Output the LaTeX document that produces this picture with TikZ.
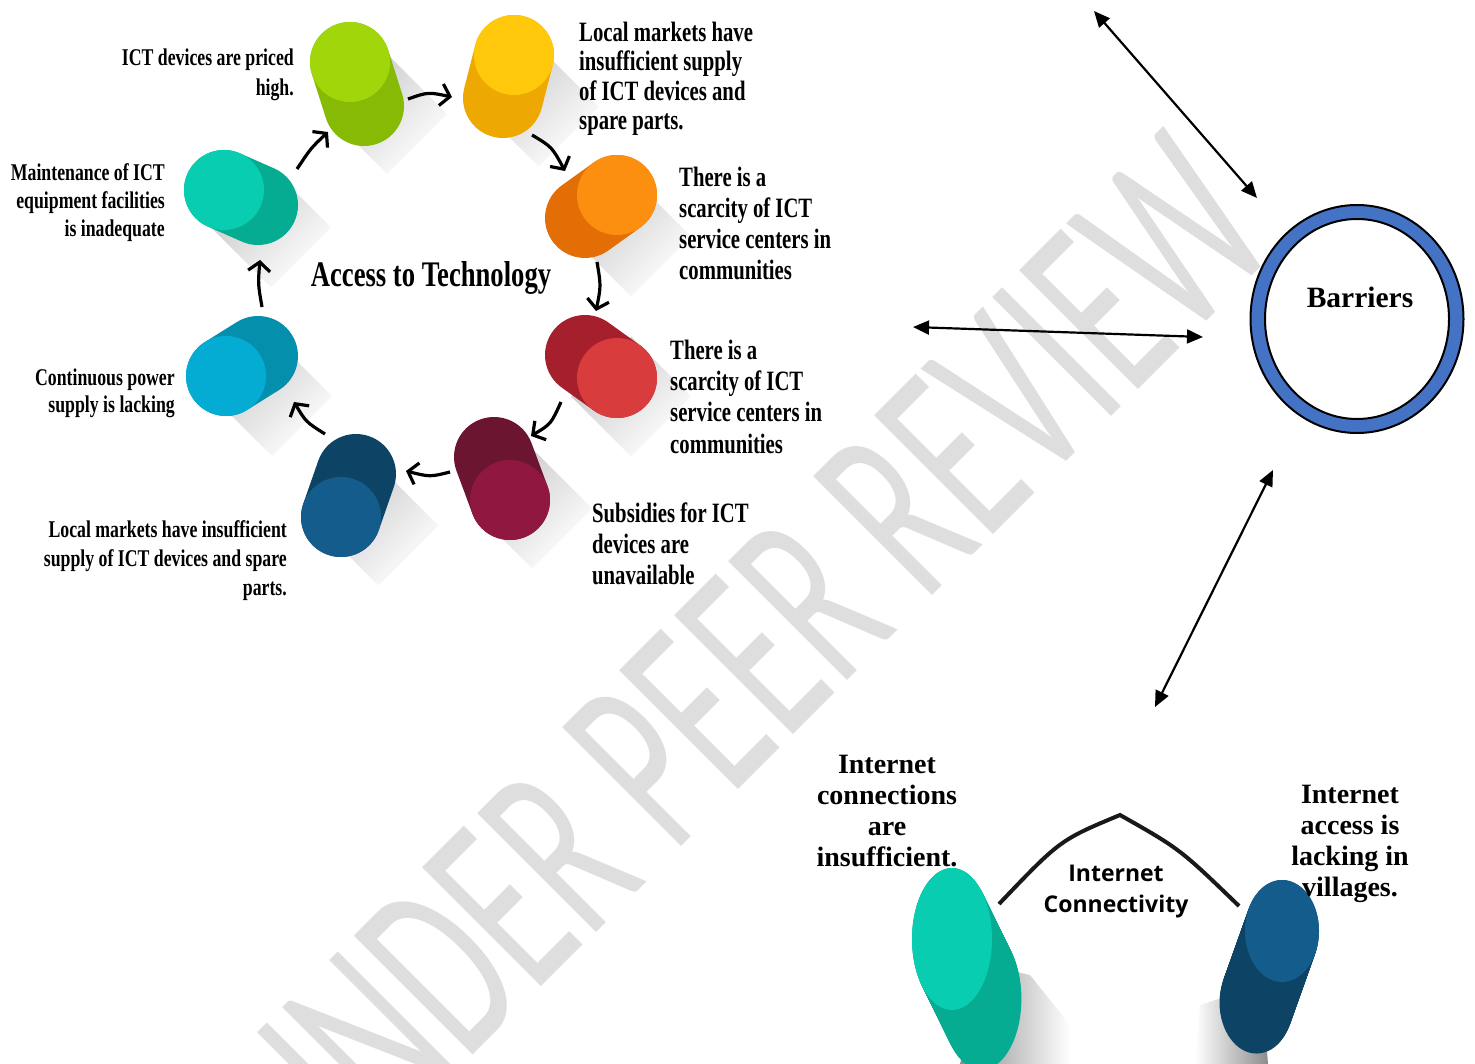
\documentclass[tikz,border=0pt]{standalone}
\usepackage{fontspec}
\setmainfont{Liberation Serif}
\newfontfamily\condfont[FakeStretch=0.74]{Liberation Serif}
\newfontfamily\wmfont[FakeStretch=0.6]{Carlito}
\newfontfamily\osfont{Open Sans}
\usetikzlibrary{arrows.meta,shapes.geometric,fadings,calc}

% pillar colours: face / body
\definecolor{greenF}{RGB}{160,214,10}
\definecolor{greenB}{RGB}{134,186,4}
\definecolor{yellowF}{RGB}{255,200,10}
\definecolor{yellowB}{RGB}{237,168,2}
\definecolor{orangeF}{RGB}{252,142,16}
\definecolor{orangeB}{RGB}{227,110,5}
\definecolor{redF}{RGB}{216,60,60}
\definecolor{redB}{RGB}{166,31,44}
\definecolor{maroonF}{RGB}{144,24,64}
\definecolor{maroonB}{RGB}{107,21,49}
\definecolor{navyF}{RGB}{20,92,140}
\definecolor{navyB}{RGB}{13,68,102}
\definecolor{cyanF}{RGB}{4,172,212}
\definecolor{cyanB}{RGB}{4,144,172}
\definecolor{tealF}{RGB}{8,205,176}
\definecolor{tealB}{RGB}{5,172,146}
\definecolor{ringblue}{RGB}{68,114,196}
\definecolor{wmgray}{RGB}{222,222,222}

\tikzset{
  cond/.style={font=\condfont\bfseries\fontsize{28}{31}\selectfont, inner sep=0pt},
  condsmall/.style={font=\condfont\bfseries\fontsize{24}{28}\selectfont, inner sep=0pt},
  serifbold/.style={font=\bfseries\fontsize{28}{31}\selectfont, inner sep=0pt, align=center},
  cyc/.style={line width=3.2pt, -{Straight Barb[length=9pt,width=22pt,line width=3.2pt]}},
  dbl/.style={line width=2.2pt, {Triangle[length=16pt,width=14pt]}-{Triangle[length=16pt,width=14pt]}},
  pillarshadow/.style={black!22, path fading=south, fading angle=45},
}

\begin{document}
\begin{tikzpicture}[x=1pt, y=-1pt]
  \useasboundingbox (0,0) rectangle (1475,1064);
  \clip (0,0) rectangle (1475,1064);

  % watermark
  \node[font=\wmfont\fontsize{262}{262}\selectfont, text=wmgray, inner sep=0pt,
        rotate=45, anchor=base] (watermark) at (803,725) {UNDER PEER REVIEW};

  % pillars round the cycle: face x/y, body x/y, colours
  \def\pillars{350/62/364/106/greenF/greenB, 514/55/503/98/yellowF/yellowB,
    617/195/585/218/orangeF/orangeB, 617/378/585/355/redF/redB,
    510/500/494/457/maroonF/maroonB, 341/517/356/474/navyF/navyB,
    226/376/258/356/cyanF/cyanB, 224/190/258/205/tealF/tealB}

  \foreach \ax/\ay/\bx/\by/\fc/\bc in \pillars {
    \coordinate (m) at ($(\ax,\ay)!0.5!(\bx,\by)$);
    \fill[pillarshadow] ($(m)+(30,-30)$) -- ($(m)+(-30,30)$) -- ($(m)+(30,90)$) -- ($(m)+(90,30)$) -- cycle;
  }
  \foreach \ax/\ay/\bx/\by/\fc/\bc in \pillars {
    \draw[line width=80pt, line cap=round, draw=\bc] (\ax,\ay) -- (\bx,\by);
    \fill[\fc] (\ax,\ay) circle[radius=40pt];
  }

  % arrows of the cycle
  \coordinate (gy1) at (408,99);  \coordinate (gy2) at (452,97);
  \coordinate (yo1) at (532,135); \coordinate (yo2) at (565,171);
  \coordinate (or1) at (597,262); \coordinate (or2) at (596,311);
  \coordinate (rm1) at (561,402); \coordinate (rm2) at (531,436);
  \coordinate (mn1) at (450,472); \coordinate (mn2) at (406,471);
  \coordinate (nc1) at (325,434); \coordinate (nc2) at (294,402);
  \coordinate (ct1) at (262,307); \coordinate (ct2) at (260,260);
  \coordinate (tg1) at (297,169); \coordinate (tg2) at (328,132);
  \draw[cyc] (gy1) .. controls (428,92) .. (gy2);
  \draw[cyc] (yo1) .. controls (552,147) .. (yo2);
  \draw[cyc] (or1) .. controls (601,286) .. (or2);
  \draw[cyc] (rm1) .. controls (551,424) .. (rm2);
  \draw[cyc] (mn1) .. controls (430,477) .. (mn2);
  \draw[cyc] (nc1) .. controls (306,422) .. (nc2);
  \draw[cyc] (ct1) .. controls (258,284) .. (ct2);
  \draw[cyc] (tg1) .. controls (311,148) .. (tg2);

  % texts round the cycle (base = last line)
  \node[cond, anchor=base] (access) at (431,287) {\fontsize{36}{40}\selectfont Access to Technology};
  \node[cond, align=left, anchor=base west, font=\condfont\bfseries\fontsize{28}{29.5}\selectfont] (supplyR) at (579,130)
    {Local markets have\\insufficient supply\\of ICT devices and\\spare parts.};
  \node[cond, align=left, anchor=base west] (scarcityA) at (679,280)
    {There is a\\scarcity of ICT\\service centers in\\communities};
  \node[cond, align=left, anchor=base west] (scarcityB) at (670,453)
    {There is a\\scarcity of ICT\\service centers in\\communities};
  \node[cond, align=left, anchor=base west] (subsidies) at (592,584)
    {Subsidies for ICT\\devices are\\unavailable};
  \node[condsmall, align=right, anchor=base east, font=\condfont\bfseries\fontsize{24}{29}\selectfont] (supplyL) at (287,595)
    {Local markets have insufficient\\supply of ICT devices and spare\\parts.};
  \node[condsmall, align=right, anchor=base east] (power) at (175,413)
    {Continuous power\\supply is lacking};
  \node[condsmall, align=right, anchor=base east] (maintenance) at (165,237)
    {Maintenance of ICT\\equipment facilities\\is inadequate};
  \node[condsmall, align=right, anchor=base east, font=\condfont\bfseries\fontsize{24}{30}\selectfont] (priced) at (294,96)
    {ICT devices are priced\\high.};

  % barriers ring
  \node[ellipse, minimum width=213pt, minimum height=228pt, inner sep=0pt,
        fill=ringblue, draw=black, line width=2pt] (ring) at (1357,319) {};
  \node[ellipse, minimum width=184pt, minimum height=200pt, inner sep=0pt,
        fill=white, draw=black, line width=2pt] (core) at (ring.center) {};
  \node[font=\bfseries\fontsize{29.5}{32}\selectfont, inner sep=0pt, anchor=base] (barriers) at (1360,308) {Barriers};

  % double arrows
  \coordinate (d1a) at (1094,11);  \coordinate (d1b) at (1257,198);
  \coordinate (d2a) at (913,327);  \coordinate (d2b) at (1203,337);
  \coordinate (d3a) at (1273,470); \coordinate (d3b) at (1155,707);
  \draw[dbl] (d1a) -- (d1b);
  \draw[dbl] (d2a) -- (d2b);
  \draw[dbl] (d3a) -- (d3b);

  % internet connectivity pillars
  \fill[black!45, path fading=east] (985,965) -- (1030,975) -- (1070,1025) -- (1070,1064) -- (960,1064) -- cycle;
  \fill[black!45, path fading=west] (1262,985) -- (1268,1064) -- (1195,1064) -- (1200,1005) -- cycle;
  \foreach \t in {0,0.02,...,1}
    \fill[tealB] ($(952,939)!\t!(982,1000)$) ellipse[x radius=40pt, y radius=71pt];
  \fill[tealF] (952,939) ellipse[x radius=40pt, y radius=71pt];
  \foreach \t in {0,0.02,...,1}
    \fill[navyB] ($(1282,931)!\t!(1256,1004)$) ellipse[x radius=37pt, y radius=51pt];
  \fill[navyF] (1282,931) ellipse[x radius=37pt, y radius=51pt];

  % arc and its label
  \coordinate (arcL) at (999,904);
  \coordinate (arcT) at (1120,815);
  \coordinate (arcR) at (1239,906);
  \draw[line width=4pt, black!90] (arcL) .. controls (1060,840) .. (arcT) .. controls (1180,849) .. (arcR);
  \node[font=\osfont\bfseries\fontsize{23}{31}\selectfont, align=center, inner sep=0pt, anchor=base] (connectivity) at (1116,912)
    {Internet\\Connectivity};
  \node[serifbold, anchor=base] (connections) at (887,866) {Internet\\connections\\are\\insufficient.};
  \node[serifbold, anchor=base] (villages) at (1350,896) {Internet\\access is\\lacking in\\villages.};
\end{tikzpicture}
\end{document}
